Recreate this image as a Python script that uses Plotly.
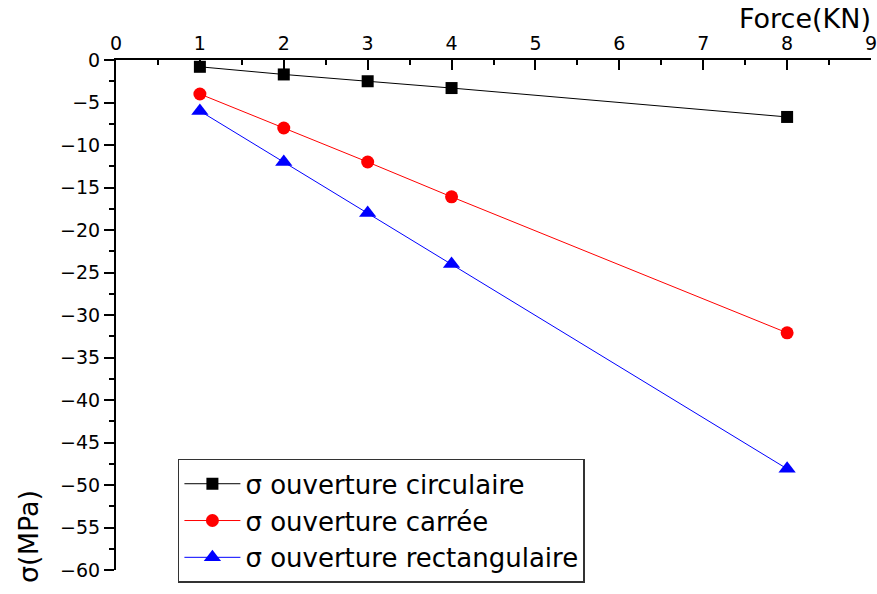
import plotly.graph_objects as go

force = [1, 2, 3, 4, 8]
circ = [-0.8, -1.7, -2.5, -3.3, -6.7]
carree = [-4.0, -8.0, -12.0, -16.1, -32.1]
rect = [-6.0, -12.0, -18.0, -24.0, -48.1]

names = ["σ ouverture circulaire", "σ ouverture carrée", "σ ouverture rectangulaire"]
colors = ["black", "red", "blue"]
symbols = ["square", "circle", "triangle-up"]
sizes = [12, 13, 15]
series = [circ, carree, rect]

fig = go.Figure()
for n, c, s, sz, ys in zip(names, colors, symbols, sizes, series):
    fig.add_trace(go.Scatter(
        x=force, y=ys, name=n, mode="lines+markers",
        line=dict(color=c, width=1),
        marker=dict(color=c, symbol=s, size=sz),
    ))

font = "DejaVu Sans, sans-serif"
fig.update_layout(
    width=877, height=594,
    margin=dict(l=116, r=6, t=60, b=24, autoexpand=False),
    paper_bgcolor="white", plot_bgcolor="white",
    font=dict(family=font, color="black", size=19),
    showlegend=True,
    legend=dict(
        x=0.082, y=0.218, xanchor="left", yanchor="top",
        bordercolor="#333", borderwidth=1.5, bgcolor="white",
        font=dict(size=26), tracegroupgap=0, itemwidth=56,
    ),
    xaxis=dict(
        range=[0, 9], side="top", dtick=1, tick0=0, automargin=False,
        showline=True, linecolor="black", linewidth=2,
        ticks="inside", ticklen=10, tickwidth=2, tickcolor="black",
        minor=dict(dtick=0.5, ticks="inside", ticklen=5, tickwidth=2, tickcolor="black"),
        showgrid=False, zeroline=False, ticklabeloverflow="allow",
        tickfont=dict(size=19),
    ),
    yaxis=dict(
        range=[-60, 0], dtick=5, tick0=0, automargin=False,
        showline=True, linecolor="black", linewidth=2,
        ticks="outside", ticklen=10, tickwidth=2, tickcolor="black",
        minor=dict(dtick=2.5, ticks="outside", ticklen=5, tickwidth=2, tickcolor="black"),
        showgrid=False, zeroline=False, ticklabeloverflow="allow",
        tickfont=dict(size=19),
    ),
    annotations=[
        dict(text="Force(KN)", xref="paper", yref="paper", x=1.0, y=1.0,
             xanchor="right", yanchor="bottom", yshift=24, xshift=2, showarrow=False,
             font=dict(size=27)),
        dict(text="σ(MPa)", xref="paper", yref="paper", x=0, y=0,
             xanchor="center", yanchor="middle", xshift=-88, yshift=33,
             textangle=-90, showarrow=False, font=dict(size=27)),
    ],
)

fig.write_html(
    "out.html",
    config={"displayModeBar": False},
    post_script="document.body.style.margin='0';document.body.style.overflow='hidden';",
)
